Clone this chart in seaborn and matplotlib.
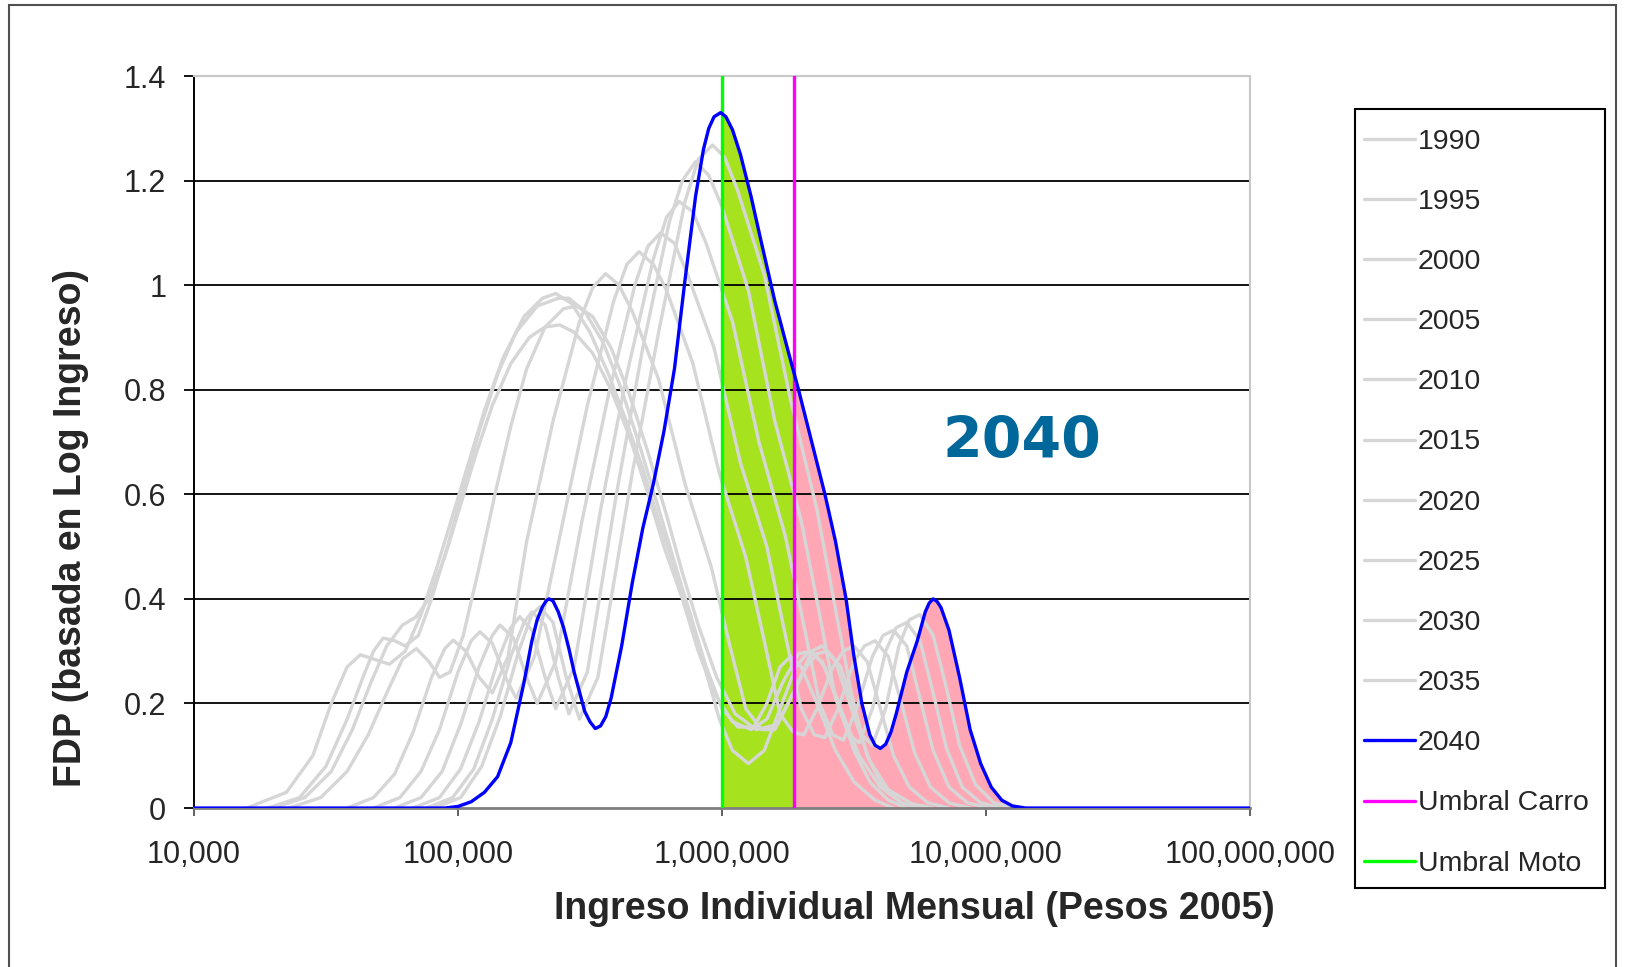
import numpy as np
import pandas as pd
import matplotlib
matplotlib.use("Agg")
import matplotlib.pyplot as plt
from matplotlib.patches import Rectangle
from matplotlib.lines import Line2D
from matplotlib.ticker import FixedLocator, FuncFormatter, NullLocator
import seaborn as sns

# ---------------------------------------------------------------
# Datos: log10(ingreso) y FDP de cada año
# ---------------------------------------------------------------
lx_1990 = [4.20, 4.35, 4.45, 4.52, 4.58, 4.63, 4.68, 4.74, 4.80, 4.86, 4.92, 4.98, 5.04, 5.10,
           5.17, 5.25, 5.32, 5.37, 5.43, 5.50, 5.57, 5.63, 5.70, 5.76, 5.82, 5.88, 5.94, 5.99,
           6.04, 6.10, 6.16, 6.22, 6.28, 6.33, 6.38, 6.44, 6.50, 6.56, 6.63, 6.70]
fdp_1990 = [0, 0.03, 0.10, 0.20, 0.27, 0.293, 0.285, 0.275, 0.30, 0.37, 0.46, 0.56, 0.66, 0.76,
            0.86, 0.94, 0.975, 0.984, 0.965, 0.91, 0.83, 0.75, 0.65, 0.55, 0.46, 0.37, 0.26, 0.17,
            0.11, 0.085, 0.11, 0.19, 0.27, 0.30, 0.28, 0.20, 0.11, 0.05, 0.015, 0]

lx_1995 = [4.28, 4.40, 4.50, 4.58, 4.64, 4.68, 4.716, 4.76, 4.80, 4.85, 4.90, 4.96, 5.02, 5.08,
           5.15, 5.22, 5.30, 5.38, 5.42, 5.48, 5.55, 5.62, 5.69, 5.75, 5.82, 5.88, 5.94, 6.00,
           6.06, 6.12, 6.17, 6.22, 6.26, 6.30, 6.36, 6.43, 6.50, 6.58, 6.65]
fdp_1995 = [0, 0.02, 0.08, 0.17, 0.25, 0.30, 0.325, 0.32, 0.31, 0.33, 0.40, 0.50, 0.61, 0.72,
            0.83, 0.91, 0.96, 0.975, 0.975, 0.95, 0.89, 0.80, 0.69, 0.59, 0.47, 0.37, 0.27, 0.19,
            0.155, 0.155, 0.20, 0.27, 0.29, 0.27, 0.20, 0.11, 0.05, 0.015, 0]

lx_2000 = [4.30, 4.42, 4.52, 4.60, 4.67, 4.73, 4.79, 4.84, 4.89, 4.95, 5.01, 5.07, 5.13, 5.20,
           5.27, 5.33, 5.385, 5.44, 5.51, 5.58, 5.65, 5.72, 5.78, 5.85, 5.91, 5.97, 6.04, 6.11,
           6.17, 6.23, 6.29, 6.34, 6.39, 6.45, 6.52, 6.60, 6.68, 6.75]
fdp_2000 = [0, 0.02, 0.07, 0.15, 0.24, 0.31, 0.35, 0.365, 0.40, 0.48, 0.58, 0.68, 0.77, 0.85,
            0.90, 0.92, 0.924, 0.91, 0.87, 0.80, 0.71, 0.60, 0.50, 0.40, 0.30, 0.22, 0.165, 0.15,
            0.17, 0.24, 0.295, 0.30, 0.27, 0.19, 0.10, 0.04, 0.01, 0]

lx_2005 = [4.36, 4.48, 4.58, 4.66, 4.73, 4.79, 4.842, 4.89, 4.93, 4.97, 5.02, 5.08, 5.14, 5.20,
           5.26, 5.33, 5.40, 5.45, 5.51, 5.58, 5.65, 5.72, 5.79, 5.85, 5.91, 5.98, 6.05, 6.13,
           6.21, 6.28, 6.34, 6.38, 6.43, 6.49, 6.56, 6.63, 6.72, 6.80]
fdp_2005 = [0, 0.02, 0.07, 0.14, 0.22, 0.285, 0.305, 0.28, 0.25, 0.26, 0.33, 0.46, 0.60, 0.73,
            0.84, 0.92, 0.955, 0.96, 0.94, 0.88, 0.79, 0.68, 0.56, 0.45, 0.35, 0.25, 0.18, 0.15,
            0.16, 0.23, 0.30, 0.31, 0.28, 0.19, 0.09, 0.035, 0.008, 0]

lx_2010 = [4.58, 4.68, 4.76, 4.83, 4.90, 4.95, 4.982, 5.03, 5.08, 5.13, 5.19, 5.26, 5.36, 5.46,
           5.51, 5.559, 5.61, 5.66, 5.76, 5.86, 5.96, 6.03, 6.09, 6.15, 6.20, 6.26, 6.32, 6.36,
           6.40, 6.45, 6.50, 6.55, 6.61, 6.68, 6.76]
fdp_2010 = [0, 0.02, 0.065, 0.145, 0.25, 0.305, 0.321, 0.30, 0.25, 0.22, 0.29, 0.51, 0.74, 0.93,
            0.995, 1.022, 1.0, 0.95, 0.82, 0.62, 0.46, 0.31, 0.19, 0.15, 0.15, 0.21, 0.27, 0.295,
            0.30, 0.27, 0.19, 0.10, 0.04, 0.01, 0]

lx_2015 = [4.68, 4.78, 4.86, 4.93, 5.00, 5.05, 5.083, 5.13, 5.18, 5.22, 5.29, 5.39, 5.49, 5.59,
           5.64, 5.686, 5.74, 5.79, 5.89, 5.99, 6.09, 6.16, 6.22, 6.27, 6.31, 6.36, 6.42, 6.46,
           6.50, 6.55, 6.60, 6.65, 6.71, 6.78, 6.86]
fdp_2015 = [0, 0.02, 0.07, 0.15, 0.26, 0.32, 0.337, 0.315, 0.25, 0.21, 0.29, 0.53, 0.77, 0.97,
            1.04, 1.064, 1.04, 0.99, 0.85, 0.64, 0.48, 0.32, 0.18, 0.145, 0.14, 0.19, 0.27, 0.30,
            0.31, 0.28, 0.19, 0.10, 0.04, 0.01, 0]

lx_2020 = [4.76, 4.86, 4.94, 5.01, 5.08, 5.13, 5.159, 5.21, 5.26, 5.30, 5.37, 5.47, 5.57, 5.67,
           5.72, 5.768, 5.82, 5.87, 5.97, 6.07, 6.17, 6.24, 6.30, 6.35, 6.39, 6.44, 6.50, 6.54,
           6.58, 6.63, 6.68, 6.73, 6.79, 6.86, 6.94]
fdp_2020 = [0, 0.02, 0.07, 0.16, 0.27, 0.33, 0.35, 0.325, 0.25, 0.20, 0.28, 0.55, 0.79, 1.0,
            1.075, 1.10, 1.08, 1.02, 0.88, 0.66, 0.50, 0.33, 0.19, 0.14, 0.135, 0.19, 0.28, 0.31,
            0.32, 0.29, 0.20, 0.105, 0.04, 0.01, 0]

lx_2025 = [4.83, 4.93, 5.01, 5.08, 5.15, 5.20, 5.234, 5.28, 5.33, 5.37, 5.44, 5.54, 5.64, 5.74,
           5.79, 5.838, 5.89, 5.94, 6.04, 6.14, 6.24, 6.31, 6.37, 6.42, 6.46, 6.51, 6.57, 6.61,
           6.65, 6.70, 6.75, 6.80, 6.86, 6.93, 7.01]
fdp_2025 = [0, 0.02, 0.075, 0.165, 0.28, 0.345, 0.366, 0.34, 0.25, 0.19, 0.27, 0.57, 0.83, 1.05,
            1.13, 1.16, 1.14, 1.08, 0.93, 0.70, 0.52, 0.35, 0.20, 0.14, 0.13, 0.19, 0.29, 0.33,
            0.34, 0.31, 0.21, 0.11, 0.04, 0.01, 0]

lx_2030 = [4.88, 4.98, 5.06, 5.13, 5.20, 5.25, 5.28, 5.33, 5.38, 5.42, 5.49, 5.60, 5.70, 5.80,
           5.85, 5.90, 5.95, 6.00, 6.10, 6.20, 6.30, 6.37, 6.43, 6.48, 6.52, 6.57, 6.62, 6.66,
           6.70, 6.75, 6.80, 6.85, 6.91, 6.98, 7.06]
fdp_2030 = [0, 0.02, 0.075, 0.17, 0.29, 0.355, 0.375, 0.35, 0.25, 0.18, 0.26, 0.60, 0.88, 1.12,
            1.20, 1.236, 1.21, 1.15, 0.99, 0.74, 0.55, 0.37, 0.21, 0.14, 0.125, 0.19, 0.30, 0.345,
            0.355, 0.32, 0.22, 0.115, 0.04, 0.01, 0]

lx_2035 = [4.91, 5.01, 5.09, 5.16, 5.23, 5.28, 5.31, 5.36, 5.41, 5.46, 5.53, 5.66, 5.76, 5.86,
           5.91, 5.964, 6.01, 6.06, 6.16, 6.26, 6.36, 6.43, 6.49, 6.53, 6.57, 6.62, 6.67, 6.71,
           6.75, 6.80, 6.85, 6.90, 6.96, 7.03, 7.11]
fdp_2035 = [0, 0.02, 0.08, 0.175, 0.30, 0.37, 0.385, 0.355, 0.25, 0.17, 0.25, 0.64, 0.91, 1.16,
            1.24, 1.268, 1.245, 1.18, 1.02, 0.78, 0.57, 0.38, 0.22, 0.14, 0.12, 0.19, 0.31, 0.36,
            0.37, 0.33, 0.23, 0.12, 0.045, 0.01, 0]

lx_2040 = [4.00, 4.95, 5.00, 5.05, 5.10, 5.15, 5.20, 5.25, 5.28, 5.30, 5.32, 5.335, 5.345, 5.36,
           5.38, 5.40, 5.42, 5.44, 5.48, 5.50, 5.52, 5.54, 5.56, 5.58, 5.62, 5.66, 5.70, 5.74,
           5.78, 5.82, 5.86, 5.90, 5.93, 5.95, 5.97, 5.995, 6.015, 6.04, 6.07, 6.11, 6.15, 6.20,
           6.25, 6.29, 6.34, 6.39, 6.43, 6.47, 6.50, 6.53, 6.56, 6.58, 6.60, 6.62, 6.64, 6.66,
           6.70, 6.74, 6.77, 6.785, 6.80, 6.815, 6.83, 6.86, 6.90, 6.94, 6.98, 7.02, 7.06, 7.10,
           7.15, 8.00]
fdp_2040 = [0, 0, 0.003, 0.012, 0.03, 0.06, 0.125, 0.24, 0.32, 0.36, 0.385, 0.397, 0.40, 0.396,
            0.375, 0.345, 0.305, 0.26, 0.185, 0.165, 0.152, 0.157, 0.175, 0.21, 0.31, 0.43, 0.535,
            0.62, 0.72, 0.84, 1.01, 1.17, 1.26, 1.30, 1.322, 1.33, 1.322, 1.297, 1.25, 1.17, 1.08,
            0.97, 0.875, 0.80, 0.70, 0.60, 0.51, 0.40, 0.29, 0.20, 0.14, 0.12, 0.114, 0.122, 0.145,
            0.18, 0.26, 0.32, 0.375, 0.392, 0.40, 0.395, 0.383, 0.34, 0.25, 0.15, 0.085, 0.04,
            0.015, 0.004, 0, 0]

umbral_moto = 1_000_000
umbral_carro = 1_870_000

anios_gris = ["1990", "1995", "2000", "2005", "2010", "2015", "2020", "2025", "2030", "2035"]
series_gris = [(lx_1990, fdp_1990), (lx_1995, fdp_1995), (lx_2000, fdp_2000),
               (lx_2005, fdp_2005), (lx_2010, fdp_2010), (lx_2015, fdp_2015),
               (lx_2020, fdp_2020), (lx_2025, fdp_2025), (lx_2030, fdp_2030),
               (lx_2035, fdp_2035)]

y_ticks = [0, 0.2, 0.4, 0.6, 0.8, 1.0, 1.2, 1.4]
y_ticklabels = ["0", "0.2", "0.4", "0.6", "0.8", "1", "1.2", "1.4"]
x_ticks = [1e4, 1e5, 1e6, 1e7, 1e8]

gris = "#D6D6D6"

# ---------------------------------------------------------------
# Figura
# ---------------------------------------------------------------
sns.set_style("white")
plt.rcParams["font.family"] = ["Liberation Sans", "DejaVu Sans"]

fig = plt.figure(figsize=(16.29, 9.67), dpi=100)
ax = fig.add_axes([0.1191, 0.1644, 0.6482, 0.757])
ax.set_xscale("log")

df_40 = pd.DataFrame({"ingreso": 10 ** np.array(lx_2040), "fdp": fdp_2040})

# areas sombreadas bajo la curva 2040
verde = ax.fill_between(df_40["ingreso"], df_40["fdp"], color="#A6E31E", lw=0, zorder=0.3)
verde.set_clip_path(Rectangle((umbral_moto, 0), umbral_carro - umbral_moto, 1.4,
                              transform=ax.transData))
rosa = ax.fill_between(df_40["ingreso"], df_40["fdp"], color="#FFA7B5", lw=0, zorder=0.3)
rosa.set_clip_path(Rectangle((umbral_carro, 0), 1e8 - umbral_carro, 1.4,
                             transform=ax.transData))

# lineas de grilla horizontales
for g in y_ticks[1:-1]:
    ax.axhline(g, color="black", lw=1.3, zorder=0.5)

for anio, (lx, fdp) in zip(anios_gris, series_gris):
    d = pd.DataFrame({"ingreso": 10 ** np.array(lx), "fdp": fdp})
    sns.lineplot(data=d, x="ingreso", y="fdp", ax=ax, color=gris, lw=2.4,
                 sort=False, zorder=2, legend=False, solid_joinstyle="round")

ax.axvline(umbral_moto, color="#00FF00", lw=2.4, zorder=3)
ax.axvline(umbral_carro, color="#FF00FF", lw=2.4, zorder=3)
sns.lineplot(data=df_40, x="ingreso", y="fdp", ax=ax, color="#0000FF", lw=2.4,
             sort=False, zorder=4, legend=False, solid_joinstyle="round")

ax.set_xlim(1e4, 1e8)
ax.set_ylim(0, 1.4)
ax.xaxis.set_major_locator(FixedLocator(x_ticks))
ax.xaxis.set_minor_locator(NullLocator())
ax.xaxis.set_major_formatter(FuncFormatter(lambda v, _: f"{int(round(v)):,}"))
ax.set_yticks(y_ticks)
ax.set_yticklabels(y_ticklabels)
ax.tick_params(axis="y", direction="out", length=7, width=1.3, pad=13,
               labelsize=22, left=True, color="black")
ax.tick_params(axis="x", direction="out", length=6, width=1.3, pad=17,
               labelsize=22, bottom=True, color="#555555")
ax.set_xlabel("")
ax.set_ylabel("")

ax.spines["left"].set_color("black")
ax.spines["left"].set_linewidth(1.4)
ax.spines["bottom"].set_color("#7F7F7F")
ax.spines["bottom"].set_linewidth(2.0)
for s in ["top", "right"]:
    ax.spines[s].set_color("#C8C8C8")
    ax.spines[s].set_linewidth(1.5)

ax.text(1.365e7, 0.70, "2040", color="#00679A", fontsize=41, fontweight="bold",
        family="DejaVu Sans", ha="center", va="center", zorder=5)

fig.text(914 / 1629, 1 - 909 / 967, "Ingreso Individual Mensual (Pesos 2005)",
         fontsize=27, fontweight="bold", ha="center", va="center")
fig.text(71 / 1629, 1 - 528 / 967, "FDP (basada en Log Ingreso)",
         fontsize=27, fontweight="bold", ha="center", va="center", rotation=90)

# leyenda (el marco se dibuja aparte)
handles = [Line2D([], [], color=gris, lw=2.4) for _ in anios_gris]
handles += [Line2D([], [], color="#0000FF", lw=2.4),
            Line2D([], [], color="#FF00FF", lw=2.4),
            Line2D([], [], color="#00FF00", lw=2.4)]
labels = anios_gris + ["2040", "Umbral Carro", "Umbral Moto"]
fig.legend(handles, labels, loc="upper left",
           bbox_to_anchor=(1346 / 1629, 1 - 111 / 967), fontsize=20.5,
           frameon=False, labelspacing=1.2, handlelength=1.8, handletextpad=0.1,
           borderpad=0.62, borderaxespad=0)
fig.add_artist(Rectangle((1355 / 1629, 1 - 888 / 967), 250 / 1629, 779 / 967,
                         transform=fig.transFigure, fill=False,
                         edgecolor="black", lw=1.5))

# marco exterior
fig.add_artist(Rectangle((9 / 1629, -0.05), (1616 - 9) / 1629, 1.05 - 5 / 967,
                         transform=fig.transFigure, fill=False,
                         edgecolor="#505050", lw=1.5))

fig.savefig("out.png", dpi=100)
